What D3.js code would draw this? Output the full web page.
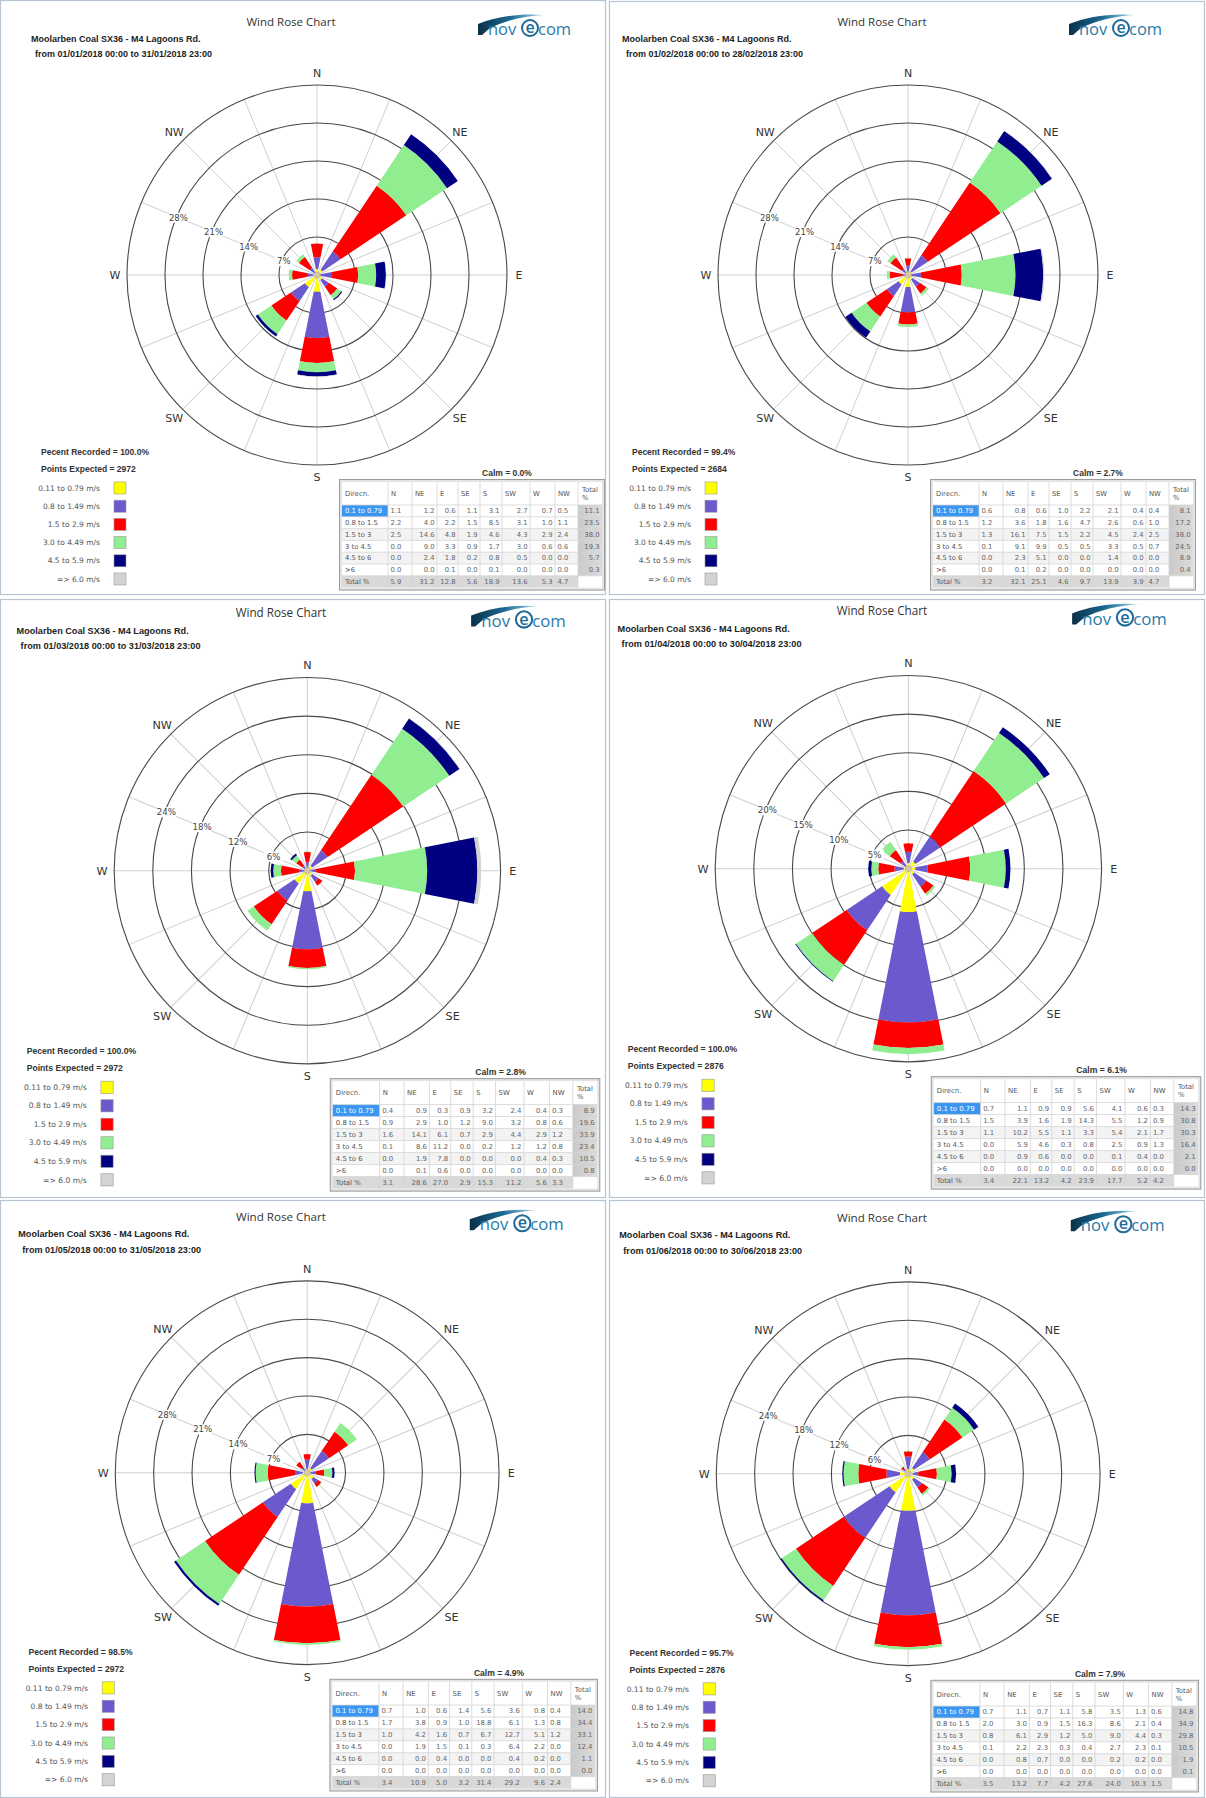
<!DOCTYPE html>
<html>
<head>
<meta charset="utf-8">
<script src="https://cdn.jsdelivr.net/npm/d3@7"></script>
<style>
  body { margin: 0; background: #fff; }
  svg { display: block; }
</style>
</head>
<body>
<svg id="chart" width="1206" height="1798"></svg>
<script>
// ---------- data ----------
const directions = ["N", "NE", "E", "SE", "S", "SW", "W", "NW"];
const speedClasses = ["0.1 to 0.79", "0.8 to 1.5", "1.5 to 3", "3 to 4.5", "4.5 to 6", ">6"];
const legendLabels = ["0.11 to 0.79 m/s", "0.8 to 1.49 m/s", "1.5 to 2.9 m/s", "3.0 to 4.49 m/s", "4.5 to 5.9 m/s", "=> 6.0 m/s"];
const speedColors = ["#ffff00", "#6a5acd", "#ff0000", "#90ee90", "#000080", "#d3d3d3"];

const stationName = "Moolarben Coal SX36 - M4 Lagoons Rd.";
const periods = [
  "from 01/01/2018 00:00 to 31/01/2018 23:00",
  "from 01/02/2018 00:00 to 28/02/2018 23:00",
  "from 01/03/2018 00:00 to 31/03/2018 23:00",
  "from 01/04/2018 00:00 to 30/04/2018 23:00",
  "from 01/05/2018 00:00 to 31/05/2018 23:00",
  "from 01/06/2018 00:00 to 30/06/2018 23:00"
];
const percentRecorded = ["100.0%", "99.4%", "100.0%", "100.0%", "98.5%", "95.7%"];
const pointsExpected = [2972, 2684, 2972, 2876, 2972, 2876];
const calmPercent = ["0.0%", "2.7%", "2.8%", "6.1%", "4.9%", "7.9%"];
const ringSteps = [7, 7, 6, 5, 7, 6];

// frequency (%) per speed class (rows) and direction (columns)
const janValues = [
  [1.1, 1.2, 0.6, 1.1, 3.1, 2.7, 0.7, 0.5],
  [2.2, 4.0, 2.2, 1.5, 8.5, 3.1, 1.0, 1.1],
  [2.5, 14.6, 4.8, 1.9, 4.6, 4.3, 2.9, 2.4],
  [0.0, 9.0, 3.3, 0.9, 1.7, 3.0, 0.6, 0.6],
  [0.0, 2.4, 1.8, 0.2, 0.8, 0.5, 0.0, 0.0],
  [0.0, 0.0, 0.1, 0.0, 0.1, 0.0, 0.0, 0.0]
];
const janRowTotals = [11.1, 23.5, 38.0, 19.3, 5.7, 0.3];
const janDirTotals = [5.9, 31.2, 12.8, 5.6, 18.9, 13.6, 5.3, 4.7];

const febValues = [
  [0.6, 0.8, 0.6, 1.0, 2.2, 2.1, 0.4, 0.4],
  [1.2, 3.6, 1.8, 1.6, 4.7, 2.6, 0.6, 1.0],
  [1.3, 16.1, 7.5, 1.5, 2.2, 4.5, 2.4, 2.5],
  [0.1, 9.1, 9.9, 0.5, 0.5, 3.3, 0.5, 0.7],
  [0.0, 2.3, 5.1, 0.0, 0.0, 1.4, 0.0, 0.0],
  [0.0, 0.1, 0.2, 0.0, 0.0, 0.0, 0.0, 0.0]
];
const febRowTotals = [8.1, 17.2, 38.0, 24.5, 8.9, 0.4];
const febDirTotals = [3.2, 32.1, 25.1, 4.6, 9.7, 13.9, 3.9, 4.7];

const marValues = [
  [0.4, 0.9, 0.3, 0.9, 3.2, 2.4, 0.4, 0.3],
  [0.9, 2.9, 1.0, 1.2, 9.0, 3.2, 0.8, 0.6],
  [1.6, 14.1, 6.1, 0.7, 2.9, 4.4, 2.9, 1.2],
  [0.1, 8.6, 11.2, 0.0, 0.2, 1.2, 1.2, 0.8],
  [0.0, 1.9, 7.8, 0.0, 0.0, 0.0, 0.4, 0.3],
  [0.0, 0.1, 0.6, 0.0, 0.0, 0.0, 0.0, 0.0]
];
const marRowTotals = [8.9, 19.6, 33.9, 23.4, 10.5, 0.8];
const marDirTotals = [3.1, 28.6, 27.0, 2.9, 15.3, 11.2, 5.6, 3.3];

const aprValues = [
  [0.7, 1.1, 0.9, 0.9, 5.6, 4.1, 0.6, 0.3],
  [1.5, 3.9, 1.6, 1.9, 14.3, 5.5, 1.2, 0.9],
  [1.1, 10.2, 5.5, 1.1, 3.3, 5.4, 2.1, 1.7],
  [0.0, 5.9, 4.6, 0.3, 0.8, 2.5, 0.9, 1.3],
  [0.0, 0.9, 0.6, 0.0, 0.0, 0.1, 0.4, 0.0],
  [0.0, 0.0, 0.0, 0.0, 0.0, 0.0, 0.0, 0.0]
];
const aprRowTotals = [14.3, 30.8, 30.3, 16.4, 2.1, 0.0];
const aprDirTotals = [3.4, 22.1, 13.2, 4.2, 23.9, 17.7, 5.2, 4.2];

const mayValues = [
  [0.7, 1.0, 0.6, 1.4, 5.6, 3.6, 0.8, 0.4],
  [1.7, 3.8, 0.9, 1.0, 18.8, 6.1, 1.3, 0.8],
  [1.0, 4.2, 1.6, 0.7, 6.7, 12.7, 5.1, 1.2],
  [0.0, 1.9, 1.5, 0.1, 0.3, 6.4, 2.2, 0.0],
  [0.0, 0.0, 0.4, 0.0, 0.0, 0.4, 0.2, 0.0],
  [0.0, 0.0, 0.0, 0.0, 0.0, 0.0, 0.0, 0.0]
];
const mayRowTotals = [14.0, 34.4, 33.1, 12.4, 1.1, 0.0];
const mayDirTotals = [3.4, 10.9, 5.0, 3.2, 31.4, 29.2, 9.6, 2.4];

const junValues = [
  [0.7, 1.1, 0.7, 1.1, 5.8, 3.5, 1.3, 0.6],
  [2.0, 3.0, 0.9, 1.5, 16.3, 8.6, 2.1, 0.4],
  [0.8, 6.1, 2.9, 1.2, 5.0, 9.0, 4.4, 0.3],
  [0.1, 2.2, 2.3, 0.3, 0.4, 2.7, 2.3, 0.1],
  [0.0, 0.8, 0.7, 0.0, 0.0, 0.2, 0.2, 0.0],
  [0.0, 0.0, 0.0, 0.0, 0.0, 0.0, 0.0, 0.0]
];
const junRowTotals = [14.8, 34.9, 29.8, 10.5, 1.9, 0.1];
const junDirTotals = [3.5, 13.2, 7.7, 4.2, 27.6, 24.0, 10.3, 1.5];

const monthValues = [janValues, febValues, marValues, aprValues, mayValues, junValues];
const monthRowTotals = [janRowTotals, febRowTotals, marRowTotals, aprRowTotals, mayRowTotals, junRowTotals];
const monthDirTotals = [janDirTotals, febDirTotals, marDirTotals, aprDirTotals, mayDirTotals, junDirTotals];

// ---------- layout ----------
const FONT = "'DejaVu Sans', Verdana, sans-serif";
const panelPlacement = [
  { x: 0,   y: 0,    s: 1.0,   frame: [0, 0, 605, 594] },
  { x: 591, y: 0,    s: 1.0,   frame: [609, 1, 1204, 594] },
  { x: -15, y: 591,  s: 1.017, frame: [0, 599, 605, 1197] },
  { x: 586, y: 589,  s: 1.017, frame: [609, 599, 1204, 1197] },
  { x: -13, y: 1195, s: 1.01,  frame: [0, 1200, 605, 1797] },
  { x: 588, y: 1196, s: 1.01,  frame: [609, 1200, 1204, 1797] }
];

const svg = d3.select("#chart");

// panel frames
panelPlacement.forEach(p => {
  const [x0, y0, x1, y1] = p.frame;
  svg.append("rect")
    .attr("x", x0 + 0.5).attr("y", y0 + 0.5)
    .attr("width", x1 - x0).attr("height", y1 - y0)
    .attr("fill", "none").attr("stroke", "#b7c3d0").attr("stroke-width", 1.2);
});

const defs = svg.append("defs");
const swooshGrad = defs.append("linearGradient").attr("id", "swoosh").attr("x1", "0").attr("x2", "1").attr("y1", "0").attr("y2", "0");
swooshGrad.append("stop").attr("offset", "0").attr("stop-color", "#0a3049");
swooshGrad.append("stop").attr("offset", "0.5").attr("stop-color", "#1b6a93");
swooshGrad.append("stop").attr("offset", "1").attr("stop-color", "#a9d8ee");
const totalGrad = defs.append("linearGradient").attr("id", "totalCol").attr("x1", "0").attr("x2", "1").attr("y1", "0").attr("y2", "0");
totalGrad.append("stop").attr("offset", "0").attr("stop-color", "#c9c9c9");
totalGrad.append("stop").attr("offset", "1").attr("stop-color", "#dcdcdc");

// novecom logo: swoosh with the word set underneath
function drawLogo(g, x, y) {
  const l = g.append("g").attr("transform", `translate(${x},${y})`);
  l.append("path")
    .attr("d", "M0,11 C18,4 40,0 66,2 C46,3 26,8 12,15 L4,22 L0,22 Z")
    .attr("fill", "url(#swoosh)");
  l.append("text").attr("x", 10).attr("y", 22).attr("font-family", "'Open Sans', sans-serif")
    .attr("font-size", 16.5).attr("fill", "#2a7aa8").text("nov");
  l.append("circle").attr("cx", 52).attr("cy", 15).attr("r", 8)
    .attr("fill", "none").attr("stroke", "#1e6a98").attr("stroke-width", 2);
  l.append("text").attr("x", 52).attr("y", 20).attr("text-anchor", "middle")
    .attr("font-family", "'Open Sans', sans-serif").attr("font-size", 16).attr("font-weight", 600)
    .attr("fill", "#1e6a98").text("e");
  l.append("text").attr("x", 60).attr("y", 22).attr("font-family", "'Open Sans', sans-serif")
    .attr("font-size", 16.5).attr("fill", "#2a7aa8").text("com");
}

function drawPanel(idx) {
  const p = panelPlacement[idx];
  const g = svg.append("g").attr("transform", `translate(${p.x},${p.y}) scale(${p.s})`);

  // header
  g.append("text").attr("x", 291).attr("y", 26).attr("text-anchor", "middle")
    .attr("font-family", "'Open Sans', sans-serif").attr("font-size", 11.5).attr("fill", "#333")
    .text("Wind Rose Chart");
  g.append("text").attr("x", 31).attr("y", 42)
    .attr("font-family", "'Liberation Sans', Arial, sans-serif").attr("font-weight", "bold")
    .attr("font-size", 9).attr("fill", "#222").text(stationName);
  g.append("text").attr("x", 35).attr("y", 57)
    .attr("font-family", "'Liberation Sans', Arial, sans-serif").attr("font-weight", "bold")
    .attr("font-size", 9).attr("fill", "#222").text(periods[idx]);
  drawLogo(g, 478, 13);

  // rose
  const cx = 317, cy = 275, R = 190;
  const step = ringSteps[idx];
  const rings = d3.range(1, 6).map(k => k * step);
  const r = d3.scaleLinear().domain([0, rings[rings.length - 1]]).range([0, R]);
  const ang = d3.scalePoint().domain(directions).range([0, 2 * Math.PI * 7 / 8]);
  const half = Math.PI / 16;
  const rose = g.append("g").attr("transform", `translate(${cx},${cy})`);

  // spokes every 22.5 degrees
  rose.append("g").selectAll("line").data(d3.range(16)).join("line")
    .attr("x1", 0).attr("y1", 0)
    .attr("x2", i => R * Math.sin(i * Math.PI / 8))
    .attr("y2", i => -R * Math.cos(i * Math.PI / 8))
    .attr("stroke", "#cfcfcf").attr("stroke-width", 1);

  // rings
  rose.append("g").selectAll("circle").data(rings).join("circle")
    .attr("r", d => r(d)).attr("fill", "none").attr("stroke", "#4a4a4a").attr("stroke-width", 1.1);

  // stacked wedges
  const values = monthValues[idx];
  const records = directions.map((d, j) => {
    const rec = { dir: d };
    speedClasses.forEach((s, k) => { rec[k] = values[k][j]; });
    return rec;
  });
  const stack = d3.stack().keys(d3.range(speedClasses.length));
  const series = stack(records);
  const arc = d3.arc();
  rose.append("g").selectAll("g").data(series).join("g")
    .attr("fill", (s, k) => speedColors[k])
    .selectAll("path").data(s => s).join("path")
    .attr("d", d => arc({
      innerRadius: r(d[0]), outerRadius: r(d[1]),
      startAngle: ang(d.data.dir) - half, endAngle: ang(d.data.dir) + half
    }));

  // calm centre
  rose.append("circle").attr("r", 3).attr("fill", "#d6c8a6").attr("stroke", "#b8a98a").attr("stroke-width", 0.5);

  // ring labels along WNW spoke
  const labAng = 13 * Math.PI / 8;
  const rl = rose.append("g").selectAll("g").data(rings.slice(0, 4)).join("g")
    .attr("transform", d => `translate(${(r(d) - 2) * Math.sin(labAng)},${-(r(d) - 2) * Math.cos(labAng)})`);
  rl.append("rect").attr("x", -9).attr("y", -5).attr("width", 18).attr("height", 10).attr("fill", "#fff");
  rl.append("text").attr("text-anchor", "middle").attr("dy", "0.35em")
    .attr("font-family", FONT).attr("font-size", 8.5).attr("fill", "#444")
    .text(d => d + "%");

  // compass labels
  rose.append("g").selectAll("text").data(directions).join("text")
    .attr("x", d => 202 * Math.sin(ang(d)))
    .attr("y", d => -202 * Math.cos(ang(d)))
    .attr("text-anchor", "middle").attr("dy", "0.36em")
    .attr("font-family", FONT).attr("font-size", 11).attr("fill", "#333")
    .text(d => d);

  // legend
  const lg = g.append("g");
  lg.append("text").attr("x", 41).attr("y", 455).attr("font-family", "'Liberation Sans', Arial, sans-serif")
    .attr("font-weight", "bold").attr("font-size", 8.5).attr("fill", "#333")
    .text("Pecent Recorded = " + percentRecorded[idx]);
  lg.append("text").attr("x", 41).attr("y", 472).attr("font-family", "'Liberation Sans', Arial, sans-serif")
    .attr("font-weight", "bold").attr("font-size", 8.5).attr("fill", "#333")
    .text("Points Expected = " + pointsExpected[idx]);
  const li = lg.append("g").selectAll("g").data(legendLabels).join("g")
    .attr("transform", (d, i) => `translate(0,${488 + i * 18.2})`);
  li.append("text").attr("x", 100).attr("dy", "0.35em").attr("text-anchor", "end")
    .attr("font-family", FONT).attr("font-size", 7.5).attr("fill", "#555").text(d => d);
  li.append("rect").attr("x", 114).attr("y", -6).attr("width", 12).attr("height", 12)
    .attr("fill", (d, i) => speedColors[i]).attr("stroke", "#999").attr("stroke-width", 0.6);

  // calm
  g.append("text").attr("x", 507).attr("y", 476).attr("text-anchor", "middle")
    .attr("font-family", "'Liberation Sans', Arial, sans-serif").attr("font-weight", "bold")
    .attr("font-size", 8.5).attr("fill", "#333").text("Calm = " + calmPercent[idx]);

  drawTable(g, idx);
}

function drawTable(g, idx) {
  const x0 = 342, y0 = 482;
  const colW = [46, 24, 25, 21, 22, 22, 28, 25, 23, 24];
  const colX = [0];
  colW.forEach(w => colX.push(colX[colX.length - 1] + w));
  const W = colX[colX.length - 1];
  const headH = 23, rowH = 11.8;
  const H = headH + rowH * 7;
  const t = g.append("g").attr("transform", `translate(${x0},${y0})`);

  t.append("rect").attr("x", -2.5).attr("y", -2.5).attr("width", W + 5).attr("height", H + 5)
    .attr("fill", "#e4e4e4").attr("stroke", "#9a9a9a").attr("stroke-width", 1);
  t.append("rect").attr("width", W).attr("height", H).attr("fill", "#fff");

  const values = monthValues[idx], rowTot = monthRowTotals[idx], dirTot = monthDirTotals[idx];
  const rowY = i => headH + i * rowH;

  // row backgrounds
  for (let i = 0; i < 7; i++) {
    let fill = (i === 2 || i === 4) ? "#f3f3f3" : "#fff";
    if (i === 6) fill = "#d9d9d9";
    t.append("rect").attr("x", 0).attr("y", rowY(i)).attr("width", W).attr("height", rowH).attr("fill", fill);
  }
  t.append("rect").attr("x", colX[9]).attr("y", headH).attr("width", colW[9]).attr("height", rowH * 6)
    .attr("fill", "url(#totalCol)");
  t.append("rect").attr("x", 0).attr("y", headH).attr("width", colW[0]).attr("height", rowH)
    .attr("fill", "#3a96f0");
  t.append("rect").attr("x", colX[9]).attr("y", rowY(6)).attr("width", colW[9]).attr("height", rowH)
    .attr("fill", "#fff");

  // grid
  colX.slice(1, 10).forEach(x => t.append("line").attr("x1", x).attr("x2", x).attr("y1", 0).attr("y2", H)
    .attr("stroke", "#d4d4d4").attr("stroke-width", 0.8));
  for (let i = 0; i < 7; i++) {
    t.append("line").attr("x1", 0).attr("x2", W).attr("y1", rowY(i)).attr("y2", rowY(i))
      .attr("stroke", "#d4d4d4").attr("stroke-width", 0.8);
  }

  const txt = (x, y, s, anchor, color) => t.append("text").attr("x", x).attr("y", y)
    .attr("text-anchor", anchor).attr("dy", "0.35em")
    .attr("font-family", FONT).attr("font-size", 6.8).attr("fill", color || "#666").text(s);

  // header
  txt(3, headH / 2, "Direcn.", "start", "#555");
  directions.forEach((d, j) => txt(colX[j + 1] + 3, headH / 2, d, "start", "#555"));
  txt(colX[9] + 4, headH / 2 - 4, "Total", "start", "#555");
  txt(colX[9] + 4, headH / 2 + 4, "%", "start", "#555");

  const leftCols = [0, 7];
  const putVal = (j, i, v) => {
    const yy = rowY(i) + rowH / 2;
    if (leftCols.includes(j)) txt(colX[j + 1] + 2.5, yy, v.toFixed(1), "start");
    else txt(colX[j + 2] - 2.5, yy, v.toFixed(1), "end");
  };
  speedClasses.forEach((s, i) => {
    txt(3, rowY(i) + rowH / 2, s, "start", i === 0 ? "#fff" : "#555");
    values[i].forEach((v, j) => putVal(j, i, v));
    txt(W - 2.5, rowY(i) + rowH / 2, rowTot[i].toFixed(1), "end");
  });
  txt(3, rowY(6) + rowH / 2, "Total %", "start", "#555");
  dirTot.forEach((v, j) => putVal(j, 6, v));
}

d3.range(6).forEach(drawPanel);
</script>
</body>
</html>
